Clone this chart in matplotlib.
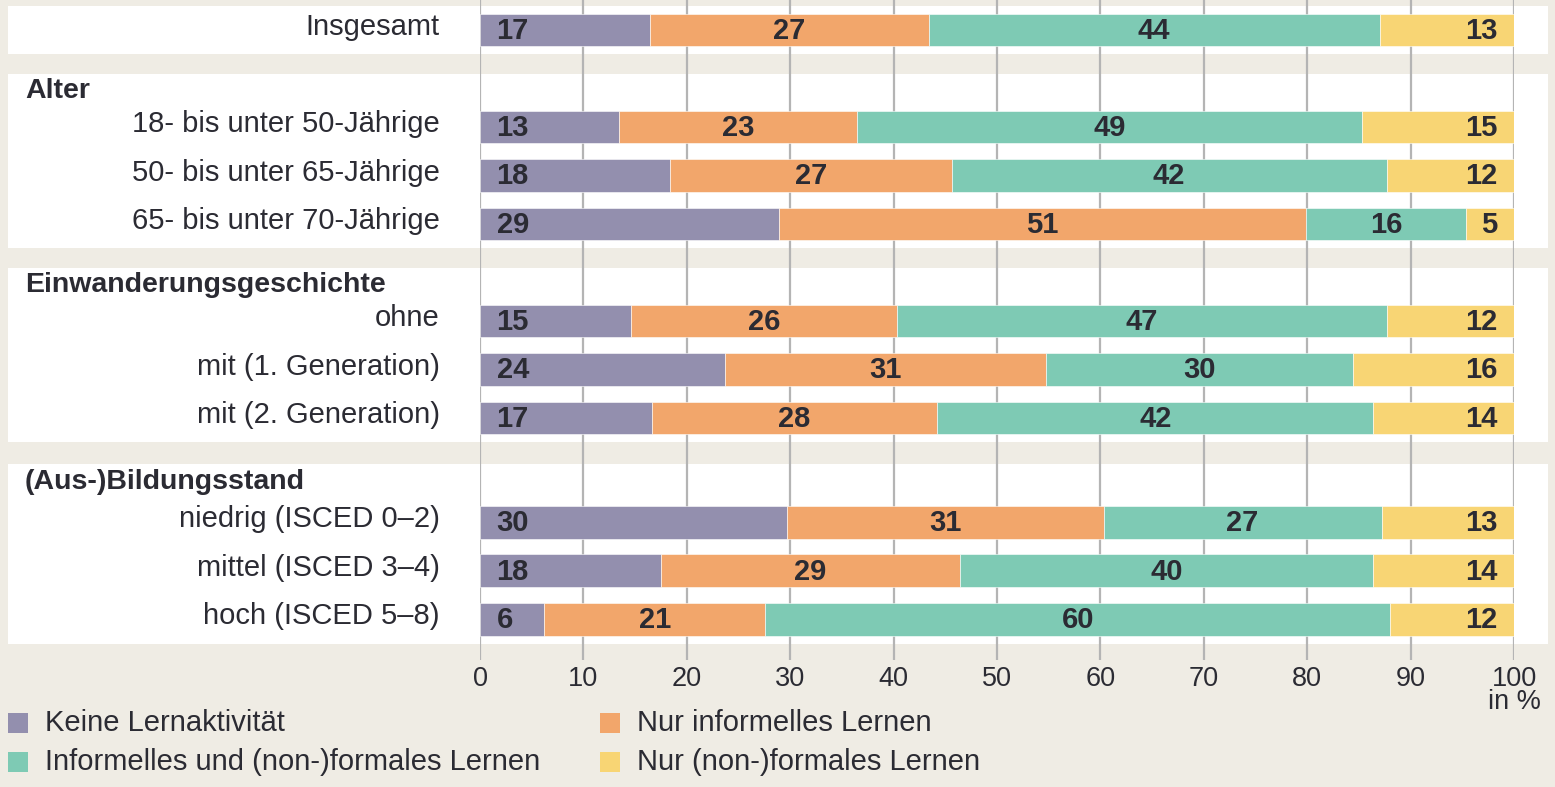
import matplotlib.pyplot as plt
from matplotlib.patches import Rectangle
from matplotlib.transforms import blended_transform_factory

plt.rcParams['font.family'] = ['Liberation Sans', 'DejaVu Sans']

# data
categories = ["Insgesamt",
              "18- bis unter 50-Jährige", "50- bis unter 65-Jährige", "65- bis unter 70-Jährige",
              "ohne", "mit (1. Generation)", "mit (2. Generation)",
              "niedrig (ISCED 0–2)", "mittel (ISCED 3–4)", "hoch (ISCED 5–8)"]
group_names = ["Alter", "Einwanderungsgeschichte", "(Aus-)Bildungsstand"]
group_members = [[1, 2, 3], [4, 5, 6], [7, 8, 9]]

series_names = ["Keine Lernaktivität", "Nur informelles Lernen",
                "Informelles und (non-)formales Lernen", "Nur (non-)formales Lernen"]
keine = [16.4, 13.4, 18.4, 28.9, 14.6, 23.7, 16.6, 29.7, 17.5, 6.2]
informell = [27.0, 23.1, 27.2, 51.0, 25.7, 31.0, 27.6, 30.6, 28.9, 21.4]
beides = [43.6, 48.8, 42.1, 15.5, 47.4, 29.7, 42.2, 26.9, 40.0, 60.4]
formal = [13.0, 14.7, 12.3, 4.6, 12.3, 15.6, 13.6, 12.8, 13.6, 12.0]

# printed (rounded) values
keine_lbl = [17, 13, 18, 29, 15, 24, 17, 30, 18, 6]
informell_lbl = [27, 23, 27, 51, 26, 31, 28, 31, 29, 21]
beides_lbl = [44, 49, 42, 16, 47, 30, 42, 27, 40, 60]
formal_lbl = [13, 15, 12, 5, 12, 16, 14, 13, 14, 12]

x_ticks = list(range(0, 101, 10))

# layout
rows = [0, 2, 3, 4, 6, 7, 8, 10.15, 11.15, 12.15]
colors = ['#938fae', '#f2a66b', '#7ecab4', '#f8d574']
bg = '#efece4'
txt = '#2b2b33'
W, H = 1555, 787
px_row = 48.5

fig = plt.figure(figsize=(W / 100, H / 100), dpi=100)
fig.patch.set_facecolor(bg)
ax = fig.add_axes([480 / W, 1 - 660 / H, 1034 / W, 660 / H])
ax.set_facecolor('none')
ax.set_xlim(0, 100)
ax.set_ylim((660 - 30) / px_row, -30 / px_row)
for s in ax.spines.values():
    s.set_visible(False)
ax.set_yticks([])
ax.set_xticks(x_ticks)
ax.tick_params(axis='x', length=0, pad=4, labelsize=19.5, labelcolor=txt)
ax.grid(axis='x', color='#b4b4b4', lw=1.6)
ax.set_axisbelow(True)

# white bands
tr = blended_transform_factory(ax.transAxes, ax.transData)
bx0 = (8 - 480) / 1034
bw = (1548 - 8) / 1034
bands = [(rows[0] - 0.5, rows[0] + 0.5)]
for j, members in enumerate(group_members):
    top = 1.2 if j == 2 else 1.1
    bands.append((rows[members[0]] - top, rows[members[-1]] + 0.5))
for y0, y1 in bands:
    ax.add_patch(Rectangle((bx0, y0), bw, y1 - y0, transform=tr, facecolor='white',
                           edgecolor='none', clip_on=False, zorder=0.1))

# stacked bars
values = [keine, informell, beides, formal]
labels = [keine_lbl, informell_lbl, beides_lbl, formal_lbl]
left = [0.0] * len(categories)
for k, (vals, lbls) in enumerate(zip(values, labels)):
    ax.barh(rows, vals, left=left, height=0.68, color=colors[k],
            edgecolor='white', linewidth=0.4, zorder=2)
    for i, (v, l) in enumerate(zip(vals, lbls)):
        if k == 0:
            x, ha = left[i] + 1.6, 'left'
        elif k == 3:
            x, ha = left[i] + v - 1.6, 'right'
        else:
            x, ha = left[i] + v / 2, 'center'
        ax.text(x, rows[i] + 0.02, str(l), ha=ha, va='center', fontsize=21,
                fontweight='bold', color=txt, zorder=3)
    left = [a + b for a, b in zip(left, vals)]

# category labels
for i, c in enumerate(categories):
    ax.text(-3.9, rows[i] - 0.06, c, ha='right', va='center', fontsize=21,
            color=txt, clip_on=False)

# group headers
hx = (25 - 480) / 1034
for j, (name, members) in enumerate(zip(group_names, group_members)):
    off = 0.83 if j == 2 else 0.74
    ax.text(hx, rows[members[0]] - off, name, transform=tr, ha='left', va='center',
            fontsize=20.5, fontweight='bold', color=txt, clip_on=False)

fig.text(1541 / W, 1 - 702 / H, "in %", ha='right', va='center', fontsize=19.5, color=txt)

# legend
leg_pos = [(8, 723), (600, 723), (8, 762), (600, 762)]
for (lx, ly), name, col in zip(leg_pos, series_names, colors):
    fig.add_artist(Rectangle((lx / W, 1 - (ly + 10) / H), 20 / W, 20 / H,
                             transform=fig.transFigure, facecolor=col, edgecolor='none'))
    fig.text((lx + 37) / W, 1 - ly / H, name, ha='left', va='center',
             fontsize=21, color=txt)

fig.savefig('out.png', dpi=100, facecolor=bg)
